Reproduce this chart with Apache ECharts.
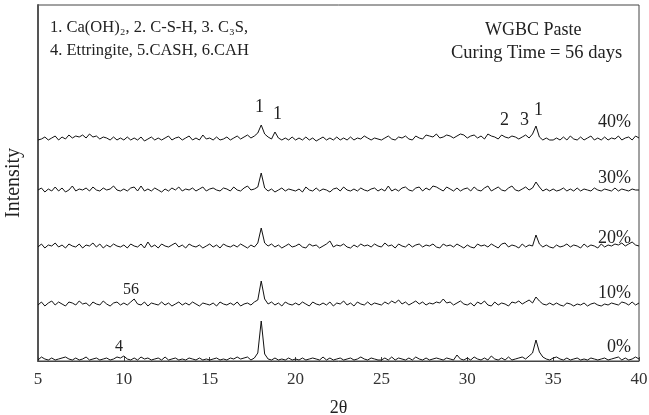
<!DOCTYPE html>
<html>
<head>
<meta charset="utf-8">
<script src="https://cdn.jsdelivr.net/npm/echarts@6/dist/echarts.min.js"></script>
<style>
  html, body { margin: 0; padding: 0; background: #fff; }
  #main { width: 649px; height: 415px; }
</style>
</head>
<body>
<div id="main"></div>
<script>
// 2theta grid: 5.0 .. 40.0, step 0.2 (176 points)
var thetaStart = 5;
var thetaStep = 0.2;

// intensity readings (arbitrary units), one row per 5 degrees
var curve0 = [
  0,3,1,0,2,0,1,2,3,1,0,2,0,1,3,0,1,2,0,1,2,0,1,3,2,
  4,1,0,2,0,3,1,2,0,1,2,0,3,0,1,2,0,1,0,2,1,0,2,0,1,
  0,1,2,0,1,0,2,1,3,1,2,3,0,2,7,39,6,1,0,2,0,1,0,2,0,
  1,0,2,0,1,2,1,0,3,0,2,0,1,2,0,1,2,0,1,3,1,0,2,1,0,
  0,2,0,3,0,2,1,0,2,0,3,1,0,2,0,1,2,1,0,2,1,0,5,1,0,
  2,0,3,1,0,2,0,4,1,0,2,0,3,0,1,2,3,1,4,7,20,8,3,1,0,
  2,3,1,0,2,0,1,2,0,1,0,2,1,0,1,2,0,1,2,3,0,2,0,1,3,
  1
];
var curve10 = [
  3,6,2,5,7,3,6,4,2,6,5,3,7,4,5,2,6,4,3,7,4,2,5,6,3,
  5,3,6,9,4,3,6,2,5,4,3,6,3,5,2,4,6,3,5,3,6,4,2,5,4,
  3,5,2,6,4,3,5,3,6,2,4,5,3,6,8,27,9,4,6,3,5,2,6,4,3,
  5,3,6,4,2,6,4,3,5,3,6,2,5,4,7,3,5,2,6,4,3,6,3,5,4,
  3,6,4,7,5,8,4,6,3,5,7,4,6,3,5,4,6,5,9,5,6,3,5,7,4,
  3,5,2,6,4,7,3,2,6,3,5,4,2,6,5,7,4,6,8,5,11,7,4,3,5,
  3,5,3,2,5,4,2,4,3,5,2,4,5,3,2,4,3,5,4,3,6,5,3,6,3,
  5
];
var curve20 = [
  3,6,2,5,4,7,3,5,2,6,4,3,6,2,5,4,7,3,6,2,5,3,6,4,3,
  5,2,6,4,3,6,2,8,3,5,2,6,4,3,5,7,3,5,2,6,4,3,5,2,4,
  6,3,5,2,6,4,3,5,3,6,4,2,5,3,7,22,7,4,6,3,5,2,4,6,3,
  4,6,3,2,6,4,5,2,4,6,9,3,5,4,6,3,2,5,3,6,4,5,3,6,4,
  3,7,4,5,2,6,4,3,6,3,5,6,3,5,4,6,3,2,6,4,5,3,6,4,2,
  5,3,2,6,4,5,3,6,4,2,6,7,3,5,4,2,6,3,5,4,15,6,3,5,3,
  2,5,3,4,6,3,5,4,2,6,3,5,4,2,6,3,5,4,6,5,7,4,6,8,5,
  4
];
var curve30 = [
  4,6,2,5,3,7,3,6,2,4,8,3,5,4,6,3,7,4,3,6,4,5,8,4,3,
  5,3,6,7,3,8,3,5,3,6,4,2,5,3,6,4,7,3,5,4,6,3,5,7,3,
  5,6,4,3,6,5,3,7,4,3,6,8,4,5,7,21,6,3,5,2,4,6,3,5,4,
  3,5,2,7,4,3,6,3,5,4,2,5,6,3,7,4,3,5,3,6,4,3,5,6,3,
  5,3,8,3,5,3,6,7,4,3,6,7,3,6,4,8,7,5,3,7,5,3,6,3,5,
  6,3,7,4,3,6,8,3,5,7,4,3,6,8,4,3,5,7,4,6,12,7,3,5,3,
  5,3,4,6,3,5,3,6,3,5,4,3,6,4,3,5,4,3,6,3,5,4,3,5,4,
  4
];
var curve40 = [
  3,4,6,3,5,7,3,6,4,8,5,7,6,8,5,9,6,7,4,6,5,3,6,3,5,
  3,6,3,5,3,6,2,4,6,3,5,3,5,7,3,5,6,3,5,7,3,5,3,8,4,
  5,3,6,3,4,6,3,5,7,4,6,8,5,7,10,18,9,6,4,11,5,3,5,3,6,
  3,5,3,6,3,5,2,4,6,3,5,3,6,3,5,3,6,3,5,4,7,5,3,5,4,
  3,5,7,4,3,6,5,7,4,3,7,5,4,8,7,6,9,5,6,8,7,5,7,9,8,
  5,7,8,5,7,4,9,7,6,4,8,6,5,7,6,4,6,8,5,9,17,6,3,5,3,
  3,5,3,6,3,7,4,3,6,3,5,7,3,5,3,6,3,5,4,7,3,5,6,3,7,
  5
];

var curveNames = ['0%', '10%', '20%', '30%', '40%'];
var curves = [curve0, curve10, curve20, curve30, curve40];

// vertical shift of each pattern so they stack
var shifts = [1, 53, 111, 167, 218];

var serif = '"Liberation Serif", "DejaVu Serif", serif';

function buildData(vals, shift) {
  var out = [];
  for (var i = 0; i < vals.length; i++) {
    out.push([+(thetaStart + i * thetaStep).toFixed(1), vals[i] + shift]);
  }
  return out;
}

var series = [];
for (var k = 0; k < curves.length; k++) {
  series.push({
    name: curveNames[k],
    type: 'line',
    data: buildData(curves[k], shifts[k]),
    showSymbol: false,
    lineStyle: { color: '#111', width: 1 },
    silent: true
  });
}

function txt(x, y, text, size) {
  return {
    type: 'text', left: x, top: y,
    style: { text: text, fill: '#222', font: size + 'px ' + serif }
  };
}

var option = {
  animation: false,
  backgroundColor: '#fff',
  grid: {
    left: 38, right: 10, top: 5, bottom: 54,
    outerBoundsMode: 'none',
    containLabel: false,
    show: true, borderColor: '#444', borderWidth: 1
  },
  xAxis: {
    type: 'value',
    min: 5, max: 40, interval: 5,
    name: '2θ',
    nameLocation: 'middle',
    nameGap: 38,
    nameTextStyle: { fontFamily: serif, fontSize: 18, color: '#222' },
    axisLine: { lineStyle: { color: '#444', width: 1 } },
    axisTick: { inside: true, length: 4, lineStyle: { color: '#444' } },
    axisLabel: { fontFamily: serif, fontSize: 17, color: '#333', margin: 10 },
    splitLine: { show: false }
  },
  yAxis: {
    type: 'value',
    min: 0, max: 356,
    name: 'Intensity',
    nameLocation: 'middle',
    nameGap: 14,
    nameRotate: 90,
    nameTextStyle: { fontFamily: serif, fontSize: 20, color: '#222' },
    axisLine: { show: true, lineStyle: { color: '#555', width: 2 } },
    axisTick: { show: false },
    axisLabel: { show: false },
    splitLine: { show: false }
  },
  graphic: [
    txt(50, 19, '1. Ca(OH)\u2082, 2. C-S-H, 3. C\u2083S,', 16.5),
    txt(50, 42, '4. Ettringite, 5.CASH, 6.CAH', 16.5),
    txt(485, 21, 'WGBC Paste', 18),
    txt(451, 44, 'Curing Time = 56 days', 18.5),
    txt(598, 113, '40%', 18),
    txt(598, 169, '30%', 18),
    txt(598, 229, '20%', 18),
    txt(598, 284, '10%', 18),
    txt(607, 338, '0%', 18),
    txt(255, 98, '1', 18),
    txt(273, 105, '1', 18),
    txt(500, 111, '2', 18),
    txt(520, 111, '3', 18),
    txt(534, 101, '1', 18),
    txt(123, 282, '56', 16),
    txt(115, 339, '4', 16)
  ],
  series: series
};

var chart = echarts.init(document.getElementById('main'), null, { renderer: 'canvas' });
chart.setOption(option);
</script>
</body>
</html>
